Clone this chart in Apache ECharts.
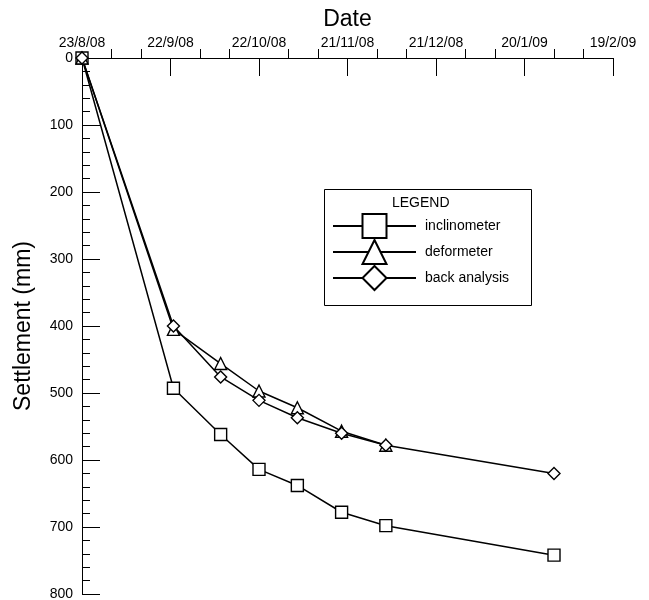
<!DOCTYPE html>
<html>
<head>
<meta charset="utf-8">
<script src="https://cdn.jsdelivr.net/npm/echarts@6/dist/echarts.min.js"></script>
<style>html,body{margin:0;padding:0;background:#fff;}#c{width:649px;height:600px;}</style>
</head>
<body>
<div id="c"></div>
<script>
// ---- data ----
const startDate = '2008-08-23';
const tickLabels = ['23/8/08', '22/9/08', '22/10/08', '21/11/08', '21/12/08', '20/1/09', '19/2/09'];
const tickStepDays = 30;

const inclinometerDates = ['2008-08-23', '2008-09-23', '2008-10-09', '2008-10-22', '2008-11-04', '2008-11-19', '2008-12-04', '2009-01-30'];
const inclinometerValues = [0, 493, 562, 614, 638, 678, 698, 742];

const deformeterDates = ['2008-08-23', '2008-09-23', '2008-10-09', '2008-10-22', '2008-11-04', '2008-11-19', '2008-12-04'];
const deformeterValues = [0, 405, 456, 497, 522, 557, 578];

const backDates = ['2008-08-23', '2008-09-23', '2008-10-09', '2008-10-22', '2008-11-04', '2008-11-19', '2008-12-04', '2009-01-30'];
const backValues = [0, 400, 476, 511, 537, 560, 578, 620];

const yTicks = [0, 100, 200, 300, 400, 500, 600, 700, 800];

// ---- helpers ----
function dayOf(s) {
  const p = s.split('-').map(Number);
  const p0 = startDate.split('-').map(Number);
  return Math.round((Date.UTC(p[0], p[1] - 1, p[2]) - Date.UTC(p0[0], p0[1] - 1, p0[2])) / 86400000);
}
function pairs(dates, vals) { return dates.map((d, i) => [dayOf(d), vals[i]]); }

const FONT = 'Liberation Sans, Arial, sans-serif';
const chart = echarts.init(document.getElementById('c'), null, { renderer: 'canvas' });

const markerStyle = { color: '#fff', borderColor: '#000', borderWidth: 1.4 };
function mkSeries(name, symbol, data) {
  return {
    name: name, type: 'line', data: data, symbol: symbol, symbolSize: 12,
    showAllSymbol: true, animation: false,
    lineStyle: { color: '#000', width: 1.5 },
    itemStyle: markerStyle,
    emphasis: { disabled: true }
  };
}

chart.setOption({
  backgroundColor: '#fff',
  animation: false,
  textStyle: { fontFamily: FONT },
  grid: { left: 82, right: 36, top: 58, bottom: 6, outerBoundsMode: 'none', containLabel: false },
  xAxis: {
    type: 'value', position: 'top',
    min: 0, max: (tickLabels.length - 1) * tickStepDays, interval: tickStepDays,
    name: 'Date', nameLocation: 'middle', nameGap: 27,
    nameTextStyle: { fontSize: 23, color: '#000', fontFamily: FONT },
    axisLine: { show: true, onZero: false, lineStyle: { color: '#000', width: 1 } },
    axisTick: { show: true, inside: true, length: 18, lineStyle: { color: '#000', width: 1 } },
    minorTick: { show: true, splitNumber: 3, length: -9, lineStyle: { color: '#000', width: 1 } },
    axisLabel: {
      fontSize: 14, color: '#000', margin: 8, fontFamily: FONT,
      formatter: v => tickLabels[Math.round(v / tickStepDays)] || ''
    },
    splitLine: { show: false }
  },
  yAxis: {
    type: 'value', inverse: true,
    min: yTicks[0], max: yTicks[yTicks.length - 1], interval: yTicks[1] - yTicks[0],
    name: 'Settlement (mm)', nameLocation: 'middle', nameGap: 47, nameRotate: 90,
    nameTextStyle: { fontSize: 23, color: '#000', fontFamily: FONT },
    axisLine: { show: true, onZero: false, lineStyle: { color: '#000', width: 1 } },
    axisTick: { show: true, inside: true, length: 18, lineStyle: { color: '#000', width: 1 } },
    minorTick: { show: true, splitNumber: 5, length: 8, lineStyle: { color: '#000', width: 1 } },
    axisLabel: { fontSize: 14, color: '#000', margin: 9, fontFamily: FONT },
    splitLine: { show: false }
  },
  legend: {
    show: true, orient: 'vertical', left: 332, top: 213,
    itemWidth: 83, itemHeight: 30, itemGap: 0, padding: 0,
    selectedMode: false,
    textStyle: { fontSize: 14, color: '#000', fontFamily: FONT, padding: [0, 0, 0, 4] },
    data: ['inclinometer', 'deformeter', 'back analysis']
  },
  graphic: [
    { type: 'rect', left: 322, top: 187, shape: { width: 207, height: 116 },
      style: { fill: 'none', stroke: '#000', lineWidth: 1 }, silent: true, z: 0 },
    { type: 'text', left: 392, top: 196,
      style: { text: 'LEGEND', fontSize: 14, fill: '#000', fontFamily: FONT }, silent: true }
  ],
  series: [
    mkSeries('inclinometer', 'rect', pairs(inclinometerDates, inclinometerValues)),
    mkSeries('deformeter', 'triangle', pairs(deformeterDates, deformeterValues)),
    mkSeries('back analysis', 'diamond', pairs(backDates, backValues))
  ]
});
</script>
</body>
</html>
